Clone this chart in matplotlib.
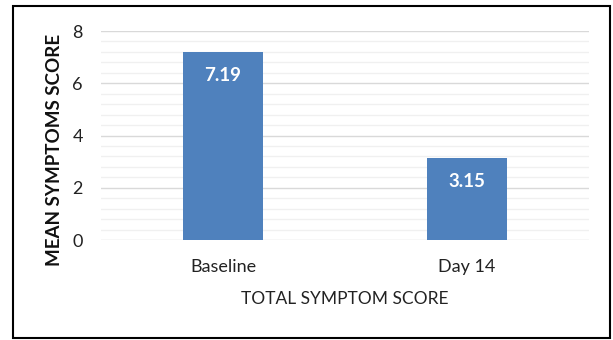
import matplotlib
matplotlib.use("Agg")
import matplotlib.pyplot as plt
from matplotlib.patches import Rectangle

categories = ["Baseline", "Day 14"]
mean_scores = [7.19, 3.15]
y_ticks = [0, 2, 4, 6, 8]

plt.rcParams['font.family'] = ['Lato', 'DejaVu Sans']

fig = plt.figure(figsize=(6.13, 3.40), dpi=100)
ax = fig.add_axes([0.1648, 0.2941, 0.7961, 0.6147])

x = range(len(categories))
bars = ax.bar(x, mean_scores, width=0.33, color="#4f81bd", zorder=3)

for b, v in zip(bars, mean_scores):
    ax.text(b.get_x() + b.get_width() / 2, v - 0.9, f"{v:.2f}",
            ha="center", va="center", color="white", fontsize=13.5,
            fontweight="bold", zorder=4)

ax.set_xlim(-0.5, len(categories) - 0.5)
ax.set_ylim(0, 8)
ax.set_yticks(y_ticks)
ax.set_yticks([i * 0.4 for i in range(21)], minor=True)
ax.set_xticks(list(x))
ax.set_xticklabels(categories, fontsize=13, color="#222222")
ax.tick_params(axis="y", labelsize=13, labelcolor="#222222", length=0, pad=13, which="both")
ax.tick_params(axis="x", length=0, pad=14)

ax.grid(axis="y", which="minor", color="#f0f0f0", linewidth=1.0, zorder=0)
ax.grid(axis="y", which="major", color="#d9d9d9", linewidth=1.0, zorder=1)
for s in ax.spines.values():
    s.set_visible(False)

ax.set_xlabel("TOTAL SYMPTOM SCORE", fontsize=12.5, color="#222222", labelpad=11)
ax.set_ylabel("MEAN SYMPTOMS SCORE", fontsize=13.5, fontweight="bold", color="#111111")
ax.yaxis.set_label_coords(-0.078, 0.43)

fig.patches.append(Rectangle((13 / 613, 2 / 340), 597 / 613, 332 / 340,
                             transform=fig.transFigure, fill=False,
                             edgecolor="black", linewidth=1.5))

fig.savefig("out.png", dpi=100)
